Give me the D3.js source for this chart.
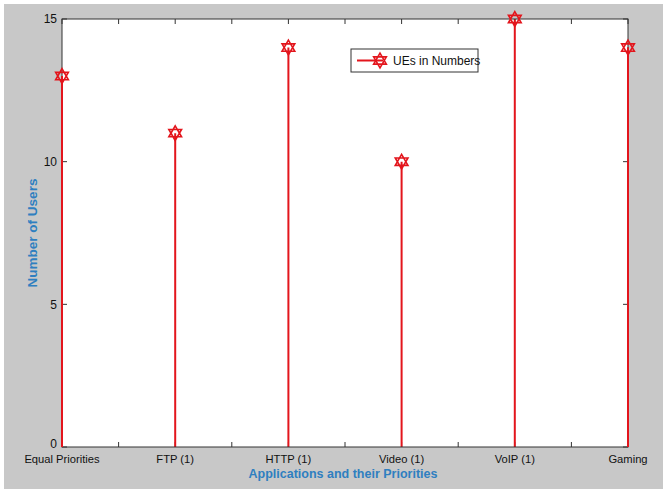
<!DOCTYPE html>
<html>
<head>
<meta charset="utf-8">
<script src="https://cdn.jsdelivr.net/npm/d3@7"></script>
<style>
  body { margin: 0; background: #fff; }
  text { font-family: "Liberation Sans", Arial, sans-serif; }
</style>
</head>
<body>
<script>
// chart data
var apps = ["Equal Priorities", "FTP (1)", "HTTP (1)", "Video (1)", "VoIP (1)", "Gaming"];
var users = [13, 11, 14, 10, 15, 14];
var yTicks = [0, 5, 10, 15];
var xMinorTicks = d3.range(1, 6.01, 0.5);
var seriesName = "UEs in Numbers";

var width = 663, height = 489;
var margin = {left: 62, right: 35, top: 19, bottom: 42};

var svg = d3.select("body").append("svg")
    .attr("width", width)
    .attr("height", height);

// grey figure background
svg.append("rect")
    .attr("x", 4).attr("y", 4)
    .attr("width", width - 4).attr("height", height - 4)
    .attr("fill", "#c8c8c8");

var x = d3.scaleLinear()
    .domain([1, 6])
    .range([margin.left, width - margin.right]);

var y = d3.scaleLinear()
    .domain([0, 15])
    .range([height - margin.bottom, margin.top]);

// white plot area
svg.append("rect")
    .attr("x", x(1)).attr("y", y(15))
    .attr("width", x(6) - x(1)).attr("height", y(0) - y(15))
    .attr("fill", "#fff");

// inward ticks on all four sides
var tickLen = 5;
var axColor = "#333";
svg.append("g").selectAll("line")
    .data(xMinorTicks)
    .join("line")
    .attr("x1", d => x(d)).attr("x2", d => x(d))
    .attr("y1", y(0)).attr("y2", y(0) - tickLen)
    .attr("stroke", axColor);
svg.append("g").selectAll("line")
    .data(xMinorTicks)
    .join("line")
    .attr("x1", d => x(d)).attr("x2", d => x(d))
    .attr("y1", y(15)).attr("y2", y(15) + tickLen)
    .attr("stroke", axColor);
svg.append("g").selectAll("line")
    .data(yTicks)
    .join("line")
    .attr("x1", x(1)).attr("x2", x(1) + tickLen)
    .attr("y1", d => y(d)).attr("y2", d => y(d))
    .attr("stroke", axColor);
svg.append("g").selectAll("line")
    .data(yTicks)
    .join("line")
    .attr("x1", x(6)).attr("x2", x(6) - tickLen)
    .attr("y1", d => y(d)).attr("y2", d => y(d))
    .attr("stroke", axColor);

// tick labels
svg.append("g").selectAll("text")
    .data(yTicks)
    .join("text")
    .attr("x", x(1) - 5)
    .attr("y", d => y(d))
    .attr("dy", d => d === 0 ? "0.05em" : "0.35em")
    .attr("text-anchor", "end")
    .attr("font-size", 12)
    .attr("fill", "#111")
    .text(d => d);

svg.append("g").selectAll("text")
    .data(apps)
    .join("text")
    .attr("x", (d, i) => x(i + 1))
    .attr("y", y(0) + 16)
    .attr("text-anchor", "middle")
    .attr("font-size", 11.2)
    .attr("fill", "#111")
    .text(d => d);

// axis titles
svg.append("text")
    .attr("x", (x(1) + x(6)) / 2 - 2)
    .attr("y", y(0) + 31)
    .attr("text-anchor", "middle")
    .attr("font-size", 12.5)
    .attr("font-weight", "bold")
    .attr("fill", "#2f7fc0")
    .text("Applications and their Priorities");

svg.append("text")
    .attr("transform", "translate(37," + ((y(0) + y(15)) / 2) + ") rotate(-90)")
    .attr("text-anchor", "middle")
    .attr("font-size", 13.5)
    .attr("font-weight", "bold")
    .attr("fill", "#2f7fc0")
    .text("Number of Users");

// hexagram marker as custom symbol
var hexagram = {
    draw: function(ctx, size) {
        var r = Math.sqrt(size) * 0.7;
        for (var k = 0; k < 2; k++) {
            var a0 = k === 0 ? -Math.PI / 2 : Math.PI / 2;
            for (var j = 0; j < 3; j++) {
                var a = a0 + j * 2 * Math.PI / 3;
                if (j === 0) ctx.moveTo(r * Math.cos(a), r * Math.sin(a));
                else ctx.lineTo(r * Math.cos(a), r * Math.sin(a));
            }
            ctx.closePath();
        }
    }
};
var red = "#e3151c";
var marker = d3.symbol().type(hexagram).size(110);

// stems
svg.append("g").selectAll("line")
    .data(users)
    .join("line")
    .attr("x1", (d, i) => x(i + 1)).attr("x2", (d, i) => x(i + 1))
    .attr("y1", y(0)).attr("y2", d => y(d))
    .attr("stroke", red)
    .attr("stroke-width", 2);

// axes box
svg.append("rect")
    .attr("x", x(1)).attr("y", y(15))
    .attr("width", x(6) - x(1)).attr("height", y(0) - y(15))
    .attr("fill", "none")
    .attr("stroke", axColor);

// redraw stems over the box edges at the ends
svg.append("g").selectAll("line")
    .data(users.filter((d, i) => i === 0 || i === users.length - 1))
    .join("line")
    .attr("x1", (d, i) => i === 0 ? x(1) : x(6))
    .attr("x2", (d, i) => i === 0 ? x(1) : x(6))
    .attr("y1", y(0)).attr("y2", d => y(d))
    .attr("stroke", red)
    .attr("stroke-width", 2);

svg.append("g").selectAll("path")
    .data(users)
    .join("path")
    .attr("transform", (d, i) => "translate(" + x(i + 1) + "," + y(d) + ")")
    .attr("d", marker)
    .attr("fill", "none")
    .attr("stroke", red)
    .attr("stroke-width", 1.6);

// legend
var lg = svg.append("g").attr("transform", "translate(351,49)");
lg.append("rect")
    .attr("width", 127).attr("height", 23)
    .attr("fill", "#fff")
    .attr("stroke", axColor);
lg.append("line")
    .attr("x1", 6).attr("x2", 32)
    .attr("y1", 11.5).attr("y2", 11.5)
    .attr("stroke", red).attr("stroke-width", 2);
lg.append("path")
    .attr("transform", "translate(29,11.5)")
    .attr("d", marker)
    .attr("fill", "none")
    .attr("stroke", red)
    .attr("stroke-width", 1.6);
lg.append("text")
    .attr("x", 42).attr("y", 11.5)
    .attr("dy", "0.35em")
    .attr("font-size", 12)
    .attr("fill", "#111")
    .text(seriesName);
</script>
</body>
</html>
